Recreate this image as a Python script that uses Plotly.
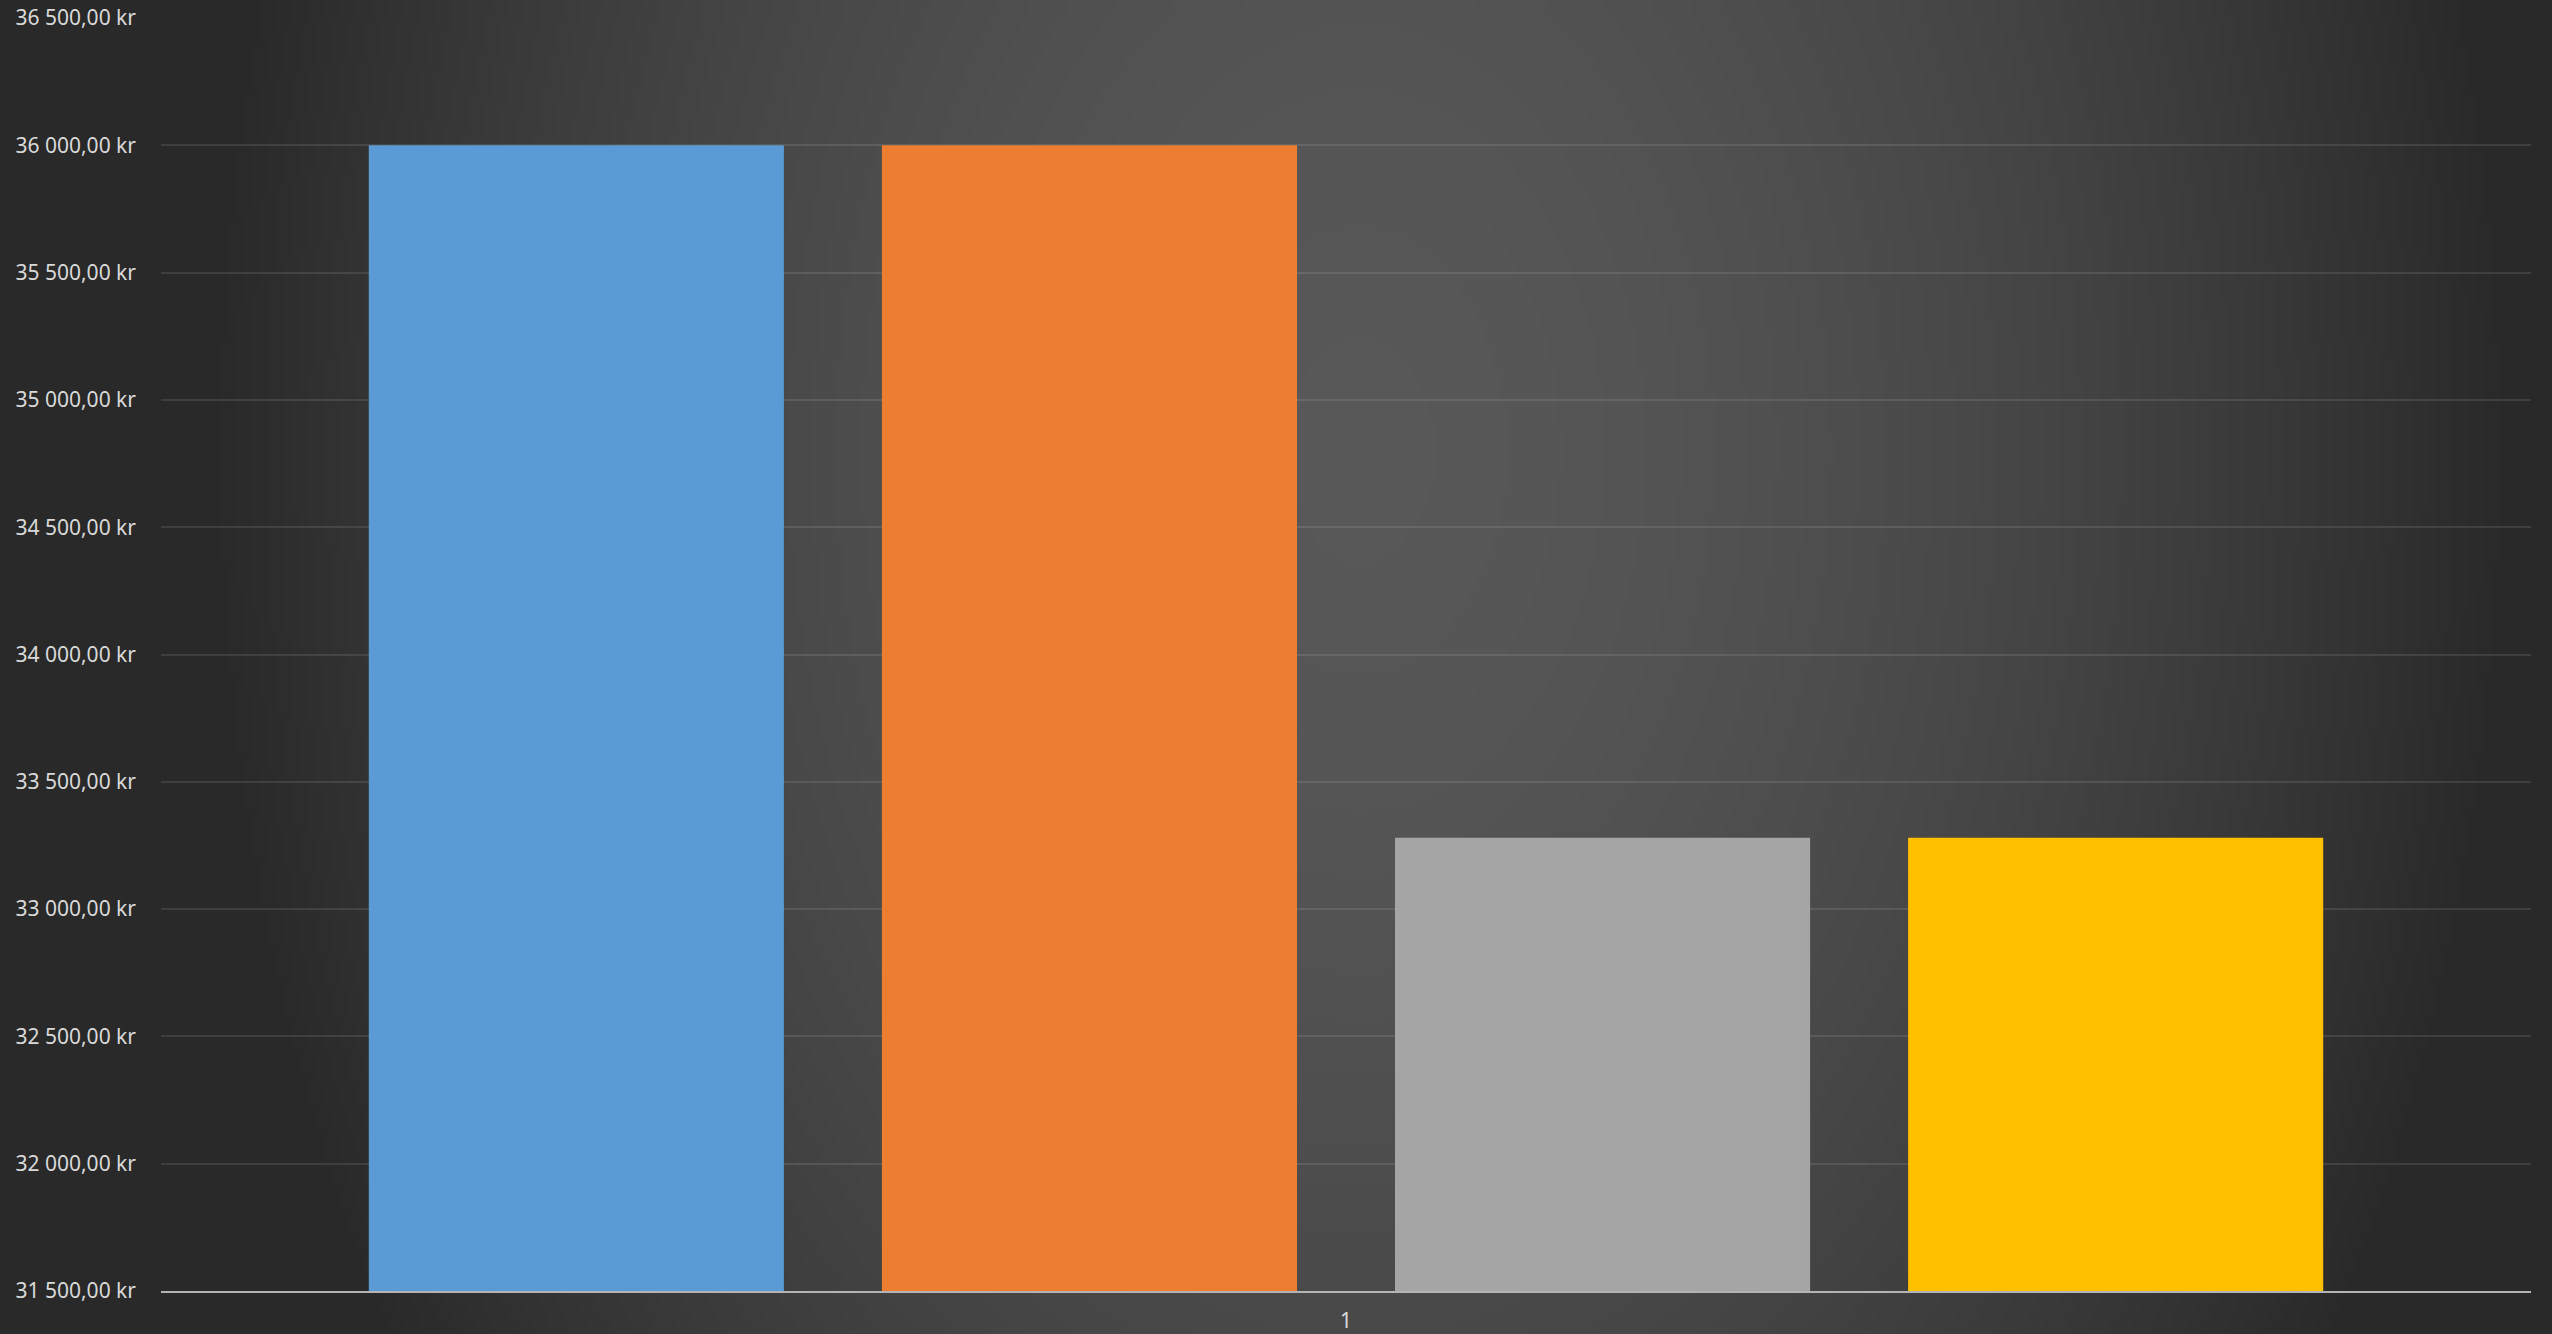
import base64, zlib, struct
import numpy as np
import plotly.graph_objects as go

# ---- data ----
categories = ["1"]
series_names = ["Serie 1", "Serie 2", "Serie 3", "Serie 4"]
series_values = [36000.0, 36000.0, 33280.0, 33280.0]
series_colors = ["#5b9bd5", "#ed7d31", "#a5a5a5", "#ffc000"]
y_min, y_max, y_step = 31500, 36500, 500

W, H = 2552, 1334
ML, MR, MT, MB = 161, 21, 18, 43
PW, PH = W - ML - MR, H - MT - MB

# ---- radial background gradient as an inline PNG ----
def make_png(arr):
    h, w, _ = arr.shape
    raw = b"".join(b"\x00" + arr[i].tobytes() for i in range(h))
    def chunk(t, d):
        c = struct.pack(">I", len(d)) + t + d
        return c + struct.pack(">I", zlib.crc32(t + d) & 0xFFFFFFFF)
    return (b"\x89PNG\r\n\x1a\n" + chunk(b"IHDR", struct.pack(">IIBBBBB", w, h, 8, 2, 0, 0, 0))
            + chunk(b"IDAT", zlib.compress(raw, 9)) + chunk(b"IEND", b""))

gw, gh = 319, 167
yy, xx = np.mgrid[0:gh, 0:gw]
px = (xx + 0.5) / gw * W
py = (yy + 0.5) / gh * H
t = np.sqrt(((px - 1360) / 1150) ** 2 + ((py - 450) / 1700) ** 2)
f = np.clip(t, 0, 1) ** 1.7
c0 = np.array([0x58, 0x58, 0x58], float)
c1 = np.array([0x29, 0x29, 0x29], float)
img = np.round(c0[None, None, :] * (1 - f[..., None]) + c1[None, None, :] * f[..., None]).astype(np.uint8)
bg_uri = "data:image/png;base64," + base64.b64encode(make_png(img)).decode()

fig = go.Figure()
for name, val, col in zip(series_names, series_values, series_colors):
    fig.add_trace(go.Bar(
        x=categories, y=[val - y_min], base=y_min, name=name,
        marker=dict(color=col, line=dict(width=0)),
    ))

fig.update_layout(
    width=W, height=H,
    margin=dict(l=ML, r=MR, t=MT, b=MB, autoexpand=False),
    paper_bgcolor="#2b2b2b",
    plot_bgcolor="rgba(0,0,0,0)",
    barmode="group",
    bargap=0.134,
    bargroupgap=0.191,
    showlegend=False,
    separators=", ",
    font=dict(family="Noto Sans", size=21, color="#d9d9d9"),
    images=[dict(source=bg_uri, xref="paper", yref="paper", x=-ML / PW, y=1 + MT / PH,
                 sizex=W / PW, sizey=H / PH, sizing="stretch", layer="below",
                 xanchor="left", yanchor="top")],
)
fig.update_xaxes(
    showgrid=False, zeroline=False, automargin=False,
    showline=True, linecolor="#b4b4b4", linewidth=2,
    layer="above traces", ticks="", ticklabelstandoff=10,
    tickfont=dict(family="Noto Sans", size=21, color="#d9d9d9"),
)
fig.update_yaxes(
    range=[y_min, y_max], dtick=y_step, tick0=y_min, automargin=False,
    tickformat=",.2f", ticksuffix=" kr",
    showgrid=True, gridcolor="rgba(255,255,255,0.10)", gridwidth=2,
    zeroline=False, showline=False, ticks="", ticklabelstandoff=24,
    tickfont=dict(family="Noto Sans", size=21, color="#d9d9d9"),
)

fig.write_html(
    "out.html",
    config={"displayModeBar": False},
    post_script="document.body.style.margin='0';document.body.style.overflow='hidden';",
)
